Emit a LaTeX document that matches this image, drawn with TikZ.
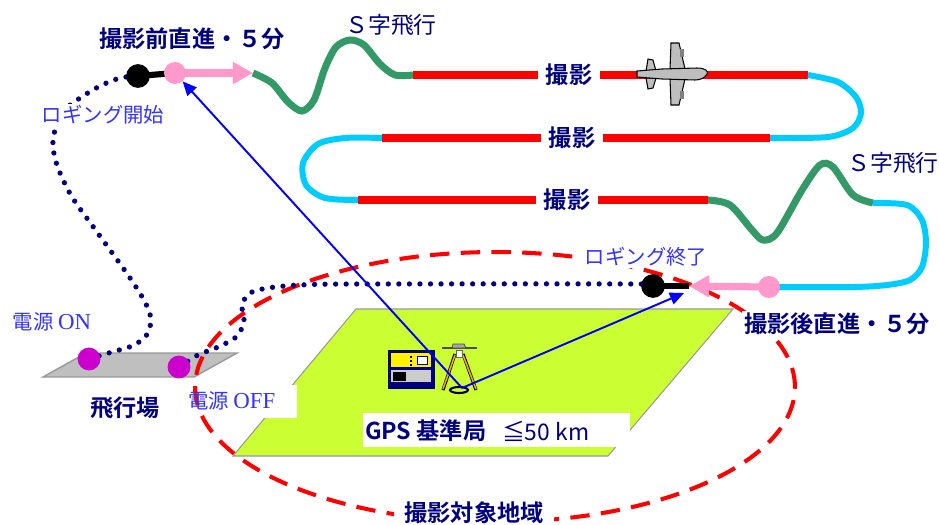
\documentclass[tikz,border=0pt]{standalone}
\usepackage{fontspec}
\usetikzlibrary{arrows.meta}
\newfontfamily\cjk{Noto Sans CJK JP}
\newfontfamily\cjkbf{Noto Sans CJK JP Bold}
\newfontfamily\tms{Liberation Serif}
\definecolor{navy}{RGB}{0,0,128}
\definecolor{logblue}{RGB}{51,51,255}
\definecolor{sgreen}{RGB}{51,153,102}
\definecolor{turncyan}{RGB}{0,204,255}
\definecolor{linkpink}{RGB}{255,153,204}
\definecolor{fieldgreen}{RGB}{204,255,51}
\definecolor{padmagenta}{RGB}{204,0,204}
\definecolor{planegray}{RGB}{190,190,190}
\definecolor{legorange}{RGB}{240,176,0}
\newcommand{\romtxt}[1]{{\tms\fontsize{13pt}{15pt}\selectfont #1}}
\tikzset{
  heading/.style={text=navy, font=\cjkbf\fontsize{13.2pt}{15pt}\selectfont, inner sep=1pt},
  stext/.style={text=navy, font=\cjk\fontsize{13pt}{15pt}\selectfont, inner sep=1pt},
  logtext/.style={text=logblue, font=\cjk\fontsize{11.6pt}{14pt}\selectfont, inner sep=1pt},
  spot/.style={circle, inner sep=0pt, minimum size=#1},
  shoot/.style={red, line width=4.5pt},
  sturn/.style={sgreen, line width=4pt},
  uturn/.style={turncyan, line width=3.4pt},
  flightdots/.style={navy, line width=3pt, line cap=round, dash pattern=on 0pt off 6pt},
  gpsray/.style={blue, line width=1.1pt, -{Triangle[length=8pt,width=7pt]}},
  straight/.style={linkpink, line width=4pt, -{Triangle[length=11.5pt,width=12pt]}},
}
\begin{document}
\begin{tikzpicture}[x=0.02cm, y=-0.02cm]
  \useasboundingbox (0,0) rectangle (939,524);

  % survey area and airfield
  \draw[fill=fieldgreen, draw=gray!80, line width=0.6pt] (233,456) -- (356,309) -- (733,309) -- (608,456) -- cycle;
  \fill[white] (363,413) rectangle (630,447);
  \fill[white] (186,385) rectangle (297,418);
  \draw[fill=gray!50, draw=gray!80, line width=0.8pt] (43,377) -- (86,353) -- (237,353) -- (194,377) -- cycle;
  \draw[red, line width=2.3pt, dash pattern=on 11pt off 6.5pt] (495,387) ellipse [x radius=6cm, y radius=2.7cm];
  \node[heading, fill=white, inner xsep=6pt] (area) at (474,513) {撮影対象地域};
  \node[logtext, fill=white] (logend) at (646,257) {ロギング終了};
  \node[heading, fill=white] (posttxt) at (837,324) {撮影後直進・５分};

  % flight path
  \coordinate (startpt) at (175,73);
  \coordinate (tipa) at (253,73);
  \coordinate (g1) at (413,75);
  \coordinate (r1) at (808,75);
  \coordinate (r2) at (770,138);
  \coordinate (r3) at (382,138);
  \coordinate (r4) at (358,200);
  \coordinate (r5) at (708,200);
  \coordinate (g2) at (873,203);
  \coordinate (endpt) at (769,287);
  \coordinate (tipb) at (689,286);
  \draw[sturn] plot[smooth] coordinates {(tipa) (272,83) (288,102) (302,111) (314,100) (325,68) (336,47) (350,40) (364,45) (380,64) (395,75) (g1)};
  \draw[shoot] (g1) -- (r1);
  \draw[uturn] plot[smooth] coordinates {(r1) (838,82) (856,97) (861,113) (853,128) (828,137) (r2)};
  \draw[shoot] (r2) -- (r3);
  \draw[uturn] plot[smooth] coordinates {(r3) (345,138) (318,144) (303,163) (306,185) (325,198) (r4)};
  \draw[shoot] (r4) -- (r5);
  \draw[sturn] plot[smooth] coordinates {(r5) (730,205) (752,230) (763,240) (777,233) (802,190) (820,165) (833,167) (853,195) (g2)};
  \draw[uturn] plot[smooth] coordinates {(g2) (907,205) (922,220) (926,243) (922,267) (910,280) (887,285) (853,287) (endpt)};
  \node[heading, fill=white, inner xsep=4.5pt] (shot1) at (569,75) {撮影};
  \node[heading, fill=white, inner xsep=4.5pt] (shot2) at (572,138) {撮影};
  \node[heading, fill=white, inner xsep=4.5pt] (shot3) at (567,200) {撮影};

  % aircraft
  \begin{scope}[fill=planegray, draw=black, line width=0.6pt]
    \filldraw (670,69) -- (671,43) -- (679,43) -- (685,69) -- cycle;
    \filldraw (670,79) -- (671,105) -- (679,105) -- (685,79) -- cycle;
    \filldraw (646,71) -- (648,59) -- (653,60) -- (656,71) -- cycle;
    \filldraw (646,78) -- (648,89) -- (653,88) -- (656,78) -- cycle;
    \fill[gray] (680,49) rectangle (684,57);
    \fill[gray] (680,91) rectangle (684,99);
    \filldraw (637,71) -- (662,69) -- (697,68) .. controls (706,68) and (709,72) .. (707,74)
      .. controls (705,78) and (700,80) .. (695,80) -- (662,79) -- (637,77) -- cycle;
  \end{scope}

  % logging track
  \coordinate (pwron) at (89,359);
  \coordinate (pwroff) at (179,367);
  \coordinate (logon) at (138,76);
  \coordinate (logoff) at (653,286);
  \draw[flightdots] plot[smooth] coordinates {(pwron) (112,352) (132,346) (146,336) (151,320) (145,302) (128,275) (97,232) (72,197) (58,168) (53,147) (55,130) (65,110) (80,98) (100,86) (120,78) (logon)};
  \draw[flightdots] plot[smooth] coordinates {(pwroff) (198,355) (218,347) (236,337) (244,322) (242,305) (250,293) (268,288) (300,285) (360,284) (640,284) (logoff)};
  \draw[black, line width=3.5pt] (logon) -- (startpt);
  \draw[black, line width=3.5pt] (logoff) -- (tipb);
  \draw[straight] (startpt) -- (tipa);
  \draw[straight] (endpt) -- (tipb);
  \node[spot=13.5pt, fill=black] (logondot) at (logon) {};
  \node[spot=13.5pt, fill=black] (logoffdot) at (logoff) {};
  \node[spot=12.5pt, fill=linkpink] (startdot) at (startpt) {};
  \node[spot=12.5pt, fill=linkpink] (enddot) at (endpt) {};
  \node[spot=13pt, fill=padmagenta] (ondot) at (pwron) {};
  \node[spot=13pt, fill=padmagenta] (offdot) at (pwroff) {};

  % reference station
  \draw[navy, fill=navy] (388,350) rectangle (434,388);
  \fill[yellow] (391,353) rectangle (431,367);
  \fill[gray!40] (391,370) rectangle (431,382);
  \fill[black] (393,372) rectangle (406,381);
  \foreach \y in {356,360,364}
    \fill[navy] (410,\y) rectangle (412,\y+2);
  \draw[navy, fill=white, line width=0.5pt] (417,356) rectangle (427,364);
  \draw[black, line width=1.8pt] (455,354) -- (443,390) (463,354) -- (476,390);
  \draw[legorange, line width=0.9pt] (455,355) -- (443,389) (463,355) -- (476,389);
  \draw[black!70, line width=1.5pt] (442,348) -- (477,348);
  \draw[fill=gray!70, draw=black!70] (452,348) -- (453,344) -- (464,344) -- (466,348) -- cycle;
  \draw[fill=white, draw=black!60] (456,350) rectangle (462,357);
  \draw[black, line width=1.2pt] (459,390) ellipse [x radius=0.18cm, y radius=0.06cm];
  \coordinate (antenna) at (462,388);
  \coordinate (rayend) at (684,293);
  \draw[gpsray] (antenna) -- (startdot);
  \draw[gpsray] (antenna) -- (rayend);

  % labels
  \node[heading] (pretxt) at (192,39) {撮影前直進・５分};
  \node[stext] (s1txt) at (391,25) {Ｓ字飛行};
  \node[stext] (s2txt) at (893,163) {Ｓ字飛行};
  \node[logtext, fill=white] (logstart) at (103,115) {ロギング開始};
  \node[logtext] (ontxt) at (52,322) {電源 \romtxt{ON}};
  \node[logtext, anchor=west] (offtxt) at (186,401) {電源 \romtxt{OFF}};
  \node[heading] (airport) at (125,408) {飛行場};
  \node[heading, anchor=west] (gpstxt) at (363,431) {GPS 基準局};
  \node[stext, anchor=west] (rangetxt) at (500,431) {≦50 km};
\end{tikzpicture}
\end{document}
